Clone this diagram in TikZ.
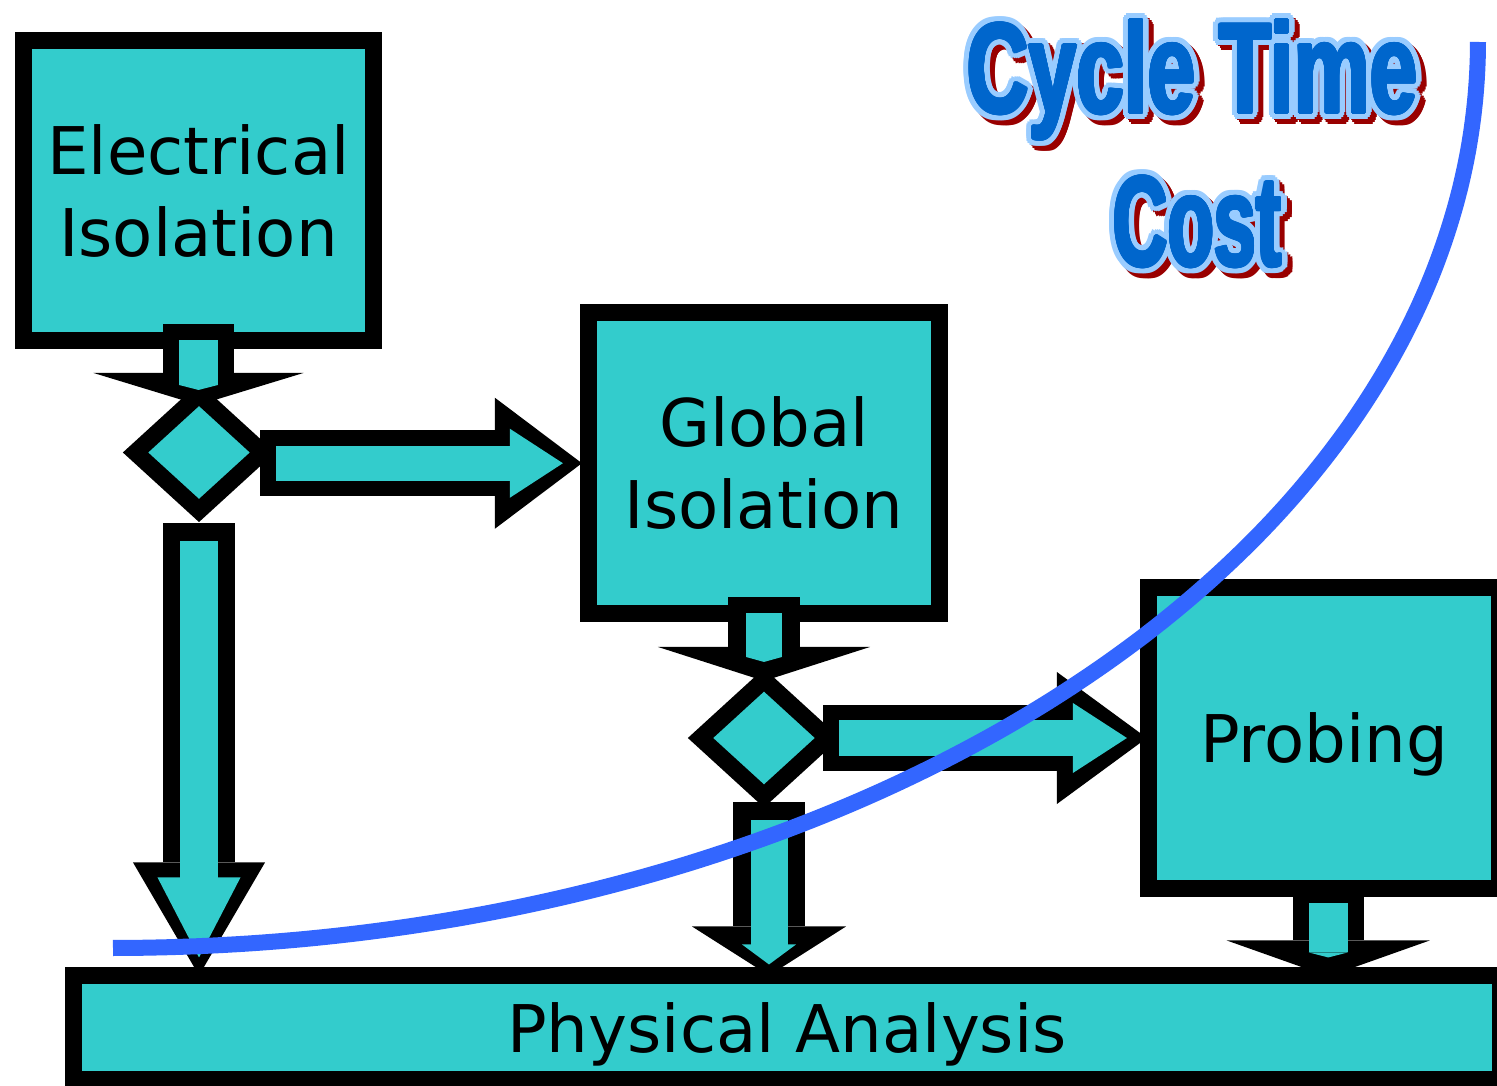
\documentclass[tikz,border=0pt]{standalone}
\usepackage{fontspec}
\usepackage{graphicx}
\setmainfont{DejaVu Sans}
\newfontfamily\titlefont{Liberation Sans}
\usetikzlibrary{arrows.meta,shapes.geometric,calc}

\definecolor{boxfill}{HTML}{33CCCC}
\definecolor{curveblue}{HTML}{3366FF}
\definecolor{titledark}{HTML}{0066CC}
\definecolor{titlelight}{HTML}{99CCFF}
\definecolor{titleshadow}{HTML}{990000}

% text repeated on two rings of offsets, giving a solid halo of one colour
\newcommand\halotext[3]{%
  \leavevmode\rlap{\foreach \hang in {0,20,...,340}{%
    \pgfmathsetlengthmacro\hdx{#2*cos(\hang)}%
    \pgfmathsetlengthmacro\hdy{#2*sin(\hang)}%
    \pgfmathsetlengthmacro\hdxx{0.5*#2*cos(\hang)}%
    \pgfmathsetlengthmacro\hdyy{0.5*#2*sin(\hang)}%
    \rlap{\hspace*{\hdx}\raisebox{\hdy}{\textcolor{#1}{#3}}}%
    \rlap{\hspace*{\hdxx}\raisebox{\hdyy}{\textcolor{#1}{#3}}}}}%
  \textcolor{#1}{#3}}

% dark letters, light outline, dark red drop shadow
\newcommand\titleline[1]{%
  \rlap{\hspace*{0.05cm}\raisebox{-0.05cm}{\halotext{titleshadow}{0.07cm}{#1}}}%
  \rlap{\halotext{titlelight}{0.07cm}{#1}}%
  \halotext{titledark}{0.015cm}{#1}}

\tikzset{
  stage/.style={rectangle, draw=black, line width=0.17cm, fill=boxfill,
    outer sep=0pt, inner sep=0pt, align=center,
    font=\fontsize{18.7}{23.3}\selectfont},
  decision/.style={diamond, draw=black, line width=0.17cm, fill=boxfill,
    outer sep=0pt, inner sep=0pt, minimum width=1.27cm, minimum height=1.16cm},
  arrowcase/.style n args={3}{draw=black, line width=#1,
    -{Triangle[width=#2,length=#3,line width=0pt]}},
  arrowcore/.style n args={3}{draw=boxfill, line width=#1,
    -{Triangle[width=#2,length=#3,line width=0pt]}},
  corejoin/.style={draw=boxfill, line width=#1},
  costcurve/.style={draw=curveblue, line width=0.16cm},
  titletext/.style={inner sep=0pt, anchor=base,
    font=\titlefont\bfseries\fontsize{36.5}{40}\selectfont},
}

\begin{document}
\begin{tikzpicture}[x=0.01cm, y=-0.01cm]
\path[use as bounding box] (0,0) rectangle (1497,1086);
\clip (0,0) rectangle (1497,1086);
\fill[white] (0,0) rectangle (1497,1086);

% process boxes
\node[stage, minimum width=3.50cm, minimum height=2.995cm] (e) at (198.5,190.75) {Electrical\\Isolation};
\node[stage, minimum width=3.51cm, minimum height=3.005cm] (g) at (764,463.25) {Global\\Isolation};
\node[stage, minimum width=3.505cm, minimum height=3.00cm, text depth=0pt] (p) at (1324.25,738) {Probing};
\node[stage, minimum width=14.26cm, minimum height=1.04cm, text depth=-0.07cm] (pa) at (787,1027.5) {Physical Analysis};

% decision points
\node[decision] (d1) at (199,452.5) {};
\node[decision] (d2) at (764,738) {};

% Electrical Isolation -> first decision
\draw[arrowcase={0.70cm}{2.10cm}{0.32cm}, shorten <=-0.165cm, shorten >=-0.105cm] (e.south) -- (e.south |- d1.north);
\draw[arrowcore={0.39cm}{0.39cm}{0.05cm}, shorten <=-0.005cm, shorten >=0.045cm] (e.south) -- (e.south |- d1.north);

% first decision -> Physical Analysis
\draw[arrowcase={0.71cm}{1.32cm}{1.13cm}, shorten <=0.125cm] (d1.south) -- (d1.south |- pa.north);
\draw[arrowcore={0.37cm}{0.83cm}{0.80cm}, shorten <=0.305cm, shorten >=0.18cm] (d1.south) -- (d1.south |- pa.north);
\draw[corejoin=0.37cm, shorten <=0.305cm, shorten >=0.58cm] (d1.south) -- (d1.south |- pa.north);

% first decision -> Global Isolation
\draw[arrowcase={0.66cm}{1.31cm}{0.87cm}, shorten <=-0.025cm, shorten >=0.065cm] (d1.east |- g.west) -- (g.west);
\draw[arrowcore={0.35cm}{0.69cm}{0.53cm}, shorten <=0.135cm, shorten >=0.255cm] (d1.east |- g.west) -- (g.west);
\draw[corejoin=0.35cm, shorten <=0.135cm, shorten >=0.555cm] (d1.east |- g.west) -- (g.west);

% Global Isolation -> second decision
\draw[arrowcase={0.72cm}{2.12cm}{0.34cm}, shorten <=-0.165cm, shorten >=-0.01cm] (g.south) -- (g.south |- d2.north);
\draw[arrowcore={0.36cm}{0.36cm}{0.05cm}, shorten <=-0.005cm, shorten >=0.18cm] (g.south) -- (g.south |- d2.north);

% second decision -> Physical Analysis
\coordinate (d2foot) at ([xshift=0.05cm]d2.south);
\draw[arrowcase={0.72cm}{1.54cm}{0.49cm}, shorten <=0.06cm] (d2foot) -- (d2foot |- pa.north);
\draw[arrowcore={0.37cm}{0.54cm}{0.20cm}, shorten <=0.24cm, shorten >=0.11cm] (d2foot) -- (d2foot |- pa.north);
\draw[corejoin=0.37cm, shorten <=0.24cm, shorten >=0.27cm] (d2foot) -- (d2foot |- pa.north);

% second decision -> Probing
\draw[arrowcase={0.65cm}{1.32cm}{0.90cm}, shorten <=-0.045cm, shorten >=0.02cm] (d2.east) -- (d2.east -| p.west);
\draw[arrowcore={0.35cm}{0.70cm}{0.54cm}, shorten <=0.115cm, shorten >=0.22cm] (d2.east) -- (d2.east -| p.west);
\draw[corejoin=0.35cm, shorten <=0.115cm, shorten >=0.54cm] (d2.east) -- (d2.east -| p.west);

% Probing -> Physical Analysis
\coordinate (pfoot) at ([xshift=0.04cm]p.south);
\draw[arrowcase={0.71cm}{2.03cm}{0.36cm}, shorten <=-0.01cm, shorten >=-0.01cm] (pfoot) -- (pfoot |- pa.north);
\draw[arrowcore={0.39cm}{0.39cm}{0.05cm}, shorten <=0.15cm, shorten >=0.18cm] (pfoot) -- (pfoot |- pa.north);

% rising cost curve (quarter ellipse)
\draw[costcurve] plot[domain=0:90, samples=80, smooth] ({113+1365*sin(\x)}, {42+906*cos(\x)});

% heading
\node[titletext] (cycletime) at (1192.5,113) {\titleline{\scalebox{0.667}[1]{Cycle Time}}};
\node[titletext] (cost) at (1197.5,266) {\titleline{\scalebox{0.59}[1]{Cost}}};
\end{tikzpicture}
\end{document}
